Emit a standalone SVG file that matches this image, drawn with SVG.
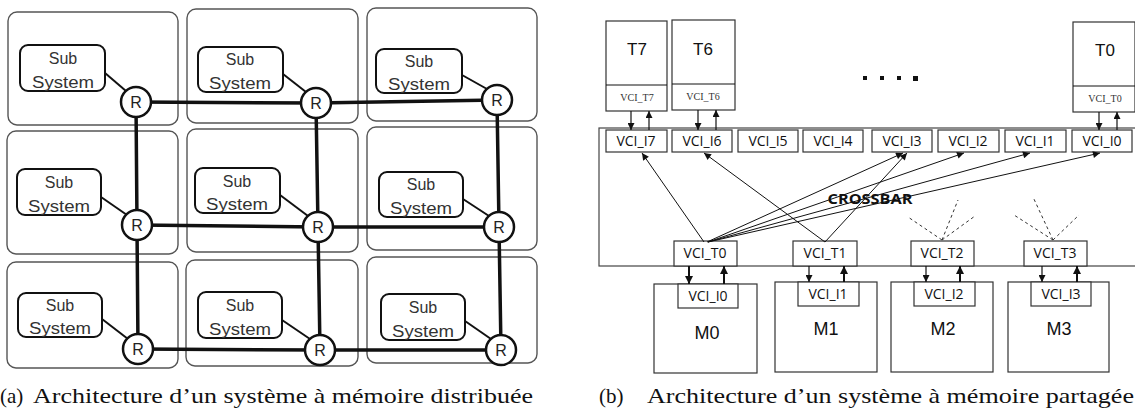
<svg xmlns="http://www.w3.org/2000/svg" width="1135" height="419" viewBox="0 0 1135 419">
<style>
.tile{fill:#fff;stroke:#555;stroke-width:1.4}
.sub{fill:#fff;stroke:#111;stroke-width:2}
.st{font-family:"Liberation Sans",Arial,sans-serif;font-size:16px;fill:#333;text-anchor:middle}
.rt{fill:#fff;stroke:#111;stroke-width:2.5}
.rl{font-family:"Liberation Sans",Arial,sans-serif;font-size:16px;fill:#222;text-anchor:middle}
.mesh{stroke:#111;stroke-width:3.5;fill:none}
.link{stroke:#111;stroke-width:2;fill:none}
.box{fill:#fff;stroke:#333;stroke-width:1.2}
.vl{font-family:"Open Sans","DejaVu Sans",sans-serif;font-size:14px;fill:#111;text-anchor:middle}
.tl{font-family:"Liberation Sans",Arial,sans-serif;font-size:17px;fill:#111;text-anchor:middle}
.ml{font-family:"Liberation Sans",Arial,sans-serif;font-size:18px;fill:#111;text-anchor:middle}
.sl{font-family:"Liberation Serif","Times New Roman",serif;font-size:10px;fill:#333;text-anchor:middle}
.thin{stroke:#111;stroke-width:1;fill:none}
.arr{stroke:#111;stroke-width:1.2;fill:none}
.arrb{stroke:#111;stroke-width:2;fill:none}
.dash{stroke:#333;stroke-width:1;fill:none;stroke-dasharray:3,3}
.cap{font-family:"Liberation Serif","Times New Roman",serif;font-size:21px;fill:#111}
</style>
<defs>
<marker id="ah" viewBox="0 0 10 10" refX="10" refY="5" markerWidth="8" markerHeight="7" markerUnits="userSpaceOnUse" orient="auto"><path d="M0,0 L10,5 L0,10 z" fill="#111"/></marker>
<marker id="ahb" viewBox="0 0 10 10" refX="10" refY="5" markerWidth="9" markerHeight="8" markerUnits="userSpaceOnUse" orient="auto"><path d="M0,0 L10,5 L0,10 z" fill="#111"/></marker>
</defs>

<!-- (a) tiles -->
<g id="tile-1-1"><rect class="tile" x="8" y="12" width="170" height="113" rx="9"/><rect class="sub" x="20" y="45" width="85" height="46" rx="8"/><text class="st" x="63" y="64">Sub</text><text class="st" x="63" y="88" textLength="62" lengthAdjust="spacingAndGlyphs">System</text></g>
<g id="tile-1-2"><rect class="tile" x="187" y="9" width="171" height="114" rx="9"/><rect class="sub" x="198" y="47" width="85" height="45" rx="8"/><text class="st" x="240" y="65">Sub</text><text class="st" x="240" y="89" textLength="62" lengthAdjust="spacingAndGlyphs">System</text></g>
<g id="tile-1-3"><rect class="tile" x="367" y="8" width="170" height="113" rx="9"/><rect class="sub" x="376" y="49" width="86" height="44" rx="8"/><text class="st" x="419" y="67">Sub</text><text class="st" x="419" y="90" textLength="62" lengthAdjust="spacingAndGlyphs">System</text></g>
<g id="tile-2-1"><rect class="tile" x="7" y="131" width="171" height="123" rx="9"/><rect class="sub" x="17" y="169" width="84" height="46" rx="8"/><text class="st" x="59" y="188">Sub</text><text class="st" x="59" y="212" textLength="62" lengthAdjust="spacingAndGlyphs">System</text></g>
<g id="tile-2-2"><rect class="tile" x="187" y="129" width="171" height="123" rx="9"/><rect class="sub" x="195" y="168" width="85" height="45" rx="8"/><text class="st" x="237" y="187">Sub</text><text class="st" x="237" y="210" textLength="62" lengthAdjust="spacingAndGlyphs">System</text></g>
<g id="tile-2-3"><rect class="tile" x="367" y="127" width="170" height="123" rx="9"/><rect class="sub" x="379" y="172" width="84" height="45" rx="8"/><text class="st" x="421" y="190">Sub</text><text class="st" x="421" y="214" textLength="62" lengthAdjust="spacingAndGlyphs">System</text></g>
<g id="tile-3-1"><rect class="tile" x="7" y="262" width="171" height="106" rx="9"/><rect class="sub" x="18" y="293" width="84" height="44" rx="8"/><text class="st" x="60" y="311">Sub</text><text class="st" x="60" y="334" textLength="62" lengthAdjust="spacingAndGlyphs">System</text></g>
<g id="tile-3-2"><rect class="tile" x="186" y="260" width="172" height="106" rx="9"/><rect class="sub" x="198" y="292" width="84" height="46" rx="8"/><text class="st" x="240" y="311">Sub</text><text class="st" x="240" y="335" textLength="62" lengthAdjust="spacingAndGlyphs">System</text></g>
<g id="tile-3-3"><rect class="tile" x="367" y="257" width="170" height="106" rx="9"/><rect class="sub" x="381" y="294" width="84" height="46" rx="8"/><text class="st" x="423" y="313">Sub</text><text class="st" x="423" y="337" textLength="62" lengthAdjust="spacingAndGlyphs">System</text></g>

<!-- (a) connectors -->
<g id="mesh-connectors">
<path class="mesh" d="M136,102 L316,103 L497,100"/>
<path class="mesh" d="M137,225 L318,227 L499,227"/>
<path class="mesh" d="M138,349 L320,350 L501,350"/>
<path class="mesh" d="M136,102 L137,225 L138,349"/>
<path class="mesh" d="M316,103 L318,227 L320,350"/>
<path class="mesh" d="M497,100 L499,227 L501,350"/>
<line class="link" x1="105" y1="73" x2="126" y2="91"/>
<line class="link" x1="283" y1="74" x2="306" y2="92"/>
<line class="link" x1="462" y1="75" x2="487" y2="89"/>
<line class="link" x1="101" y1="197" x2="127" y2="215"/>
<line class="link" x1="280" y1="195" x2="308" y2="216"/>
<line class="link" x1="463" y1="199" x2="489" y2="216"/>
<line class="link" x1="102" y1="319" x2="128" y2="339"/>
<line class="link" x1="282" y1="320" x2="310" y2="339"/>
<line class="link" x1="465" y1="321" x2="491" y2="339"/>
</g>

<!-- (a) routers -->
<g id="router-1-1"><circle class="rt" cx="136" cy="102" r="15"/><text class="rl" x="136" y="108">R</text></g>
<g id="router-1-2"><circle class="rt" cx="316" cy="103" r="15"/><text class="rl" x="316" y="109">R</text></g>
<g id="router-1-3"><circle class="rt" cx="497" cy="100" r="15"/><text class="rl" x="497" y="106">R</text></g>
<g id="router-2-1"><circle class="rt" cx="137" cy="225" r="15"/><text class="rl" x="137" y="231">R</text></g>
<g id="router-2-2"><circle class="rt" cx="318" cy="227" r="15"/><text class="rl" x="318" y="233">R</text></g>
<g id="router-2-3"><circle class="rt" cx="499" cy="227" r="15"/><text class="rl" x="499" y="233">R</text></g>
<g id="router-3-1"><circle class="rt" cx="138" cy="349" r="15"/><text class="rl" x="138" y="355">R</text></g>
<g id="router-3-2"><circle class="rt" cx="320" cy="350" r="15"/><text class="rl" x="320" y="356">R</text></g>
<g id="router-3-3"><circle class="rt" cx="501" cy="350" r="15"/><text class="rl" x="501" y="356">R</text></g>

<!-- (b) -->
<g id="crossbar"><rect x="599" y="128" width="545" height="138" fill="#fff" stroke="#444" stroke-width="1.2"/><text x="870" y="204" font-family="'Open Sans','DejaVu Sans',sans-serif" font-size="15" font-weight="bold" fill="#111" text-anchor="middle" textLength="85" lengthAdjust="spacingAndGlyphs">CROSSBAR</text></g>

<g id="T7"><rect class="box" x="606" y="21" width="61" height="90"/><line class="thin" x1="606" y1="85" x2="667" y2="85" stroke="#666"/><text class="tl" x="637" y="55">T7</text><text class="sl" x="637" y="101">VCI_T7</text></g>
<g id="T6"><rect class="box" x="672" y="20" width="63" height="90"/><line class="thin" x1="672" y1="84" x2="735" y2="84"/><text class="tl" x="703" y="55">T6</text><text class="sl" x="703" y="100">VCI_T6</text></g>
<g id="T0"><rect class="box" x="1073" y="22" width="62" height="90"/><line class="thin" x1="1073" y1="86" x2="1135" y2="86"/><text class="tl" x="1105" y="56">T0</text><text class="sl" x="1105" y="102">VCI_T0</text></g>

<g id="dots"><rect x="863" y="76" width="4" height="4" fill="#111"/><rect x="880" y="76" width="4" height="4" fill="#111"/><rect x="897" y="76" width="4" height="4" fill="#111"/><rect x="913" y="76" width="5" height="5" fill="#111"/></g>

<g id="VCI_I7"><rect class="box" x="606" y="130" width="61" height="22"/><text class="vl" x="636" y="146">VCI_I7</text></g>
<g id="VCI_I6"><rect class="box" x="672" y="130" width="60" height="22"/><text class="vl" x="702" y="146">VCI_I6</text></g>
<g id="VCI_I5"><rect class="box" x="738" y="130" width="60" height="22"/><text class="vl" x="768" y="146">VCI_I5</text></g>
<g id="VCI_I4"><rect class="box" x="803" y="130" width="60" height="22"/><text class="vl" x="833" y="146">VCI_I4</text></g>
<g id="VCI_I3"><rect class="box" x="872" y="130" width="60" height="22"/><text class="vl" x="902" y="146">VCI_I3</text></g>
<g id="VCI_I2"><rect class="box" x="938" y="130" width="61" height="22"/><text class="vl" x="968" y="146">VCI_I2</text></g>
<g id="VCI_I1"><rect class="box" x="1005" y="130" width="61" height="22"/><text class="vl" x="1035" y="146">VCI_I1</text></g>
<g id="VCI_I0"><rect class="box" x="1072" y="130" width="60" height="22"/><text class="vl" x="1102" y="146">VCI_I0</text></g>

<g id="VCI_T0-port"><rect class="box" x="674" y="241" width="63" height="25"/><text class="vl" x="705" y="258">VCI_T0</text></g>
<g id="VCI_T1-port"><rect class="box" x="793" y="241" width="64" height="25"/><text class="vl" x="825" y="258">VCI_T1</text></g>
<g id="VCI_T2-port"><rect class="box" x="911" y="241" width="63" height="25"/><text class="vl" x="942" y="258">VCI_T2</text></g>
<g id="VCI_T3-port"><rect class="box" x="1024" y="241" width="63" height="25"/><text class="vl" x="1055" y="258">VCI_T3</text></g>

<g id="M0"><rect class="box" x="654" y="284" width="103" height="89"/><rect class="box" x="678" y="284" width="60" height="24"/><text class="vl" x="708" y="301">VCI_I0</text><text class="ml" x="707" y="339">M0</text></g>
<g id="M1"><rect class="box" x="775" y="282" width="102" height="90"/><rect class="box" x="798" y="282" width="61" height="24"/><text class="vl" x="828" y="299">VCI_I1</text><text class="ml" x="826" y="335">M1</text></g>
<g id="M2"><rect class="box" x="891" y="282" width="102" height="90"/><rect class="box" x="914" y="282" width="61" height="24"/><text class="vl" x="944" y="299">VCI_I2</text><text class="ml" x="943" y="335">M2</text></g>
<g id="M3"><rect class="box" x="1008" y="282" width="101" height="90"/><rect class="box" x="1031" y="282" width="60" height="24"/><text class="vl" x="1061" y="299">VCI_I3</text><text class="ml" x="1059" y="335">M3</text></g>

<g id="crossbar-connectors">
<line class="arr" x1="631" y1="111" x2="631" y2="130" marker-end="url(#ah)"/>
<line class="arr" x1="649" y1="130" x2="649" y2="111" marker-end="url(#ah)"/>
<line class="arr" x1="698" y1="110" x2="698" y2="130" marker-end="url(#ah)"/>
<line class="arr" x1="716" y1="130" x2="716" y2="110" marker-end="url(#ah)"/>
<line class="arr" x1="1099" y1="112" x2="1099" y2="130" marker-end="url(#ah)"/>
<line class="arr" x1="1117" y1="130" x2="1117" y2="112" marker-end="url(#ah)"/>

<line class="thin" x1="704" y1="242" x2="642" y2="153" marker-end="url(#ah)"/>
<line class="thin" x1="825" y1="242" x2="704" y2="153" marker-end="url(#ah)"/>
<line class="thin" x1="825" y1="242" x2="907" y2="153" marker-end="url(#ah)"/>
<line class="thin" x1="707" y1="242" x2="903" y2="153" marker-end="url(#ah)"/>
<line class="thin" x1="708" y1="242" x2="964" y2="153" marker-end="url(#ah)"/>
<line class="thin" x1="708" y1="242" x2="1030" y2="153" marker-end="url(#ah)"/>
<line class="thin" x1="708" y1="242" x2="1100" y2="153" marker-end="url(#ah)"/>

<line class="dash" x1="942" y1="240" x2="908" y2="217"/>
<line class="dash" x1="942" y1="240" x2="958" y2="200"/>
<line class="dash" x1="942" y1="240" x2="975" y2="216"/>
<line class="dash" x1="1053" y1="240" x2="1014" y2="215"/>
<line class="dash" x1="1053" y1="240" x2="1033" y2="197"/>
<line class="dash" x1="1053" y1="240" x2="1079" y2="215"/>

<line class="arrb" x1="689" y1="266" x2="689" y2="284" marker-end="url(#ahb)"/>
<line class="arrb" x1="724" y1="284" x2="724" y2="266" marker-end="url(#ahb)"/>
<line class="arr" x1="809" y1="266" x2="809" y2="282" marker-end="url(#ah)"/>
<line class="arrb" x1="844" y1="282" x2="844" y2="266" marker-end="url(#ahb)"/>
<line class="arr" x1="926" y1="266" x2="926" y2="282" marker-end="url(#ah)"/>
<line class="arrb" x1="960" y1="282" x2="960" y2="266" marker-end="url(#ahb)"/>
<line class="arr" x1="1042" y1="266" x2="1042" y2="282" marker-end="url(#ah)"/>
<line class="arrb" x1="1077" y1="282" x2="1077" y2="266" marker-end="url(#ahb)"/>
</g>

<!-- captions -->
<text class="cap" x="0" y="403">(a)</text>
<text class="cap" x="33" y="403" textLength="500" lengthAdjust="spacingAndGlyphs">Architecture d’un système à mémoire distribuée</text>
<text class="cap" x="599" y="403">(b)</text>
<text class="cap" x="647" y="403" textLength="487" lengthAdjust="spacingAndGlyphs">Architecture d’un système à mémoire partagée</text>
</svg>
